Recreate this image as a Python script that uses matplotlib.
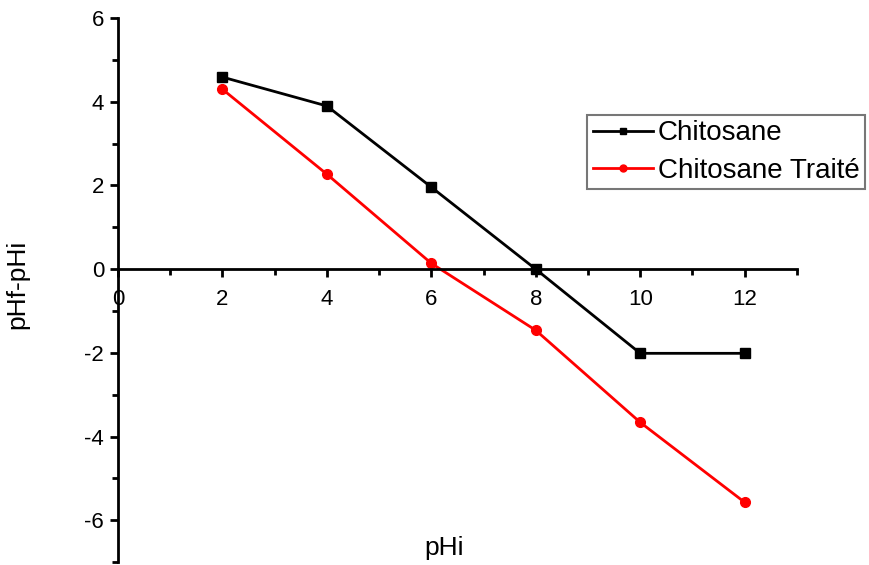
import matplotlib
matplotlib.use("Agg")
import matplotlib.pyplot as plt
from matplotlib.ticker import MultipleLocator

plt.rcParams['font.family'] = ['Liberation Sans', 'DejaVu Sans']
plt.rcParams['axes.unicode_minus'] = False

# pH titration data
phi = [2, 4, 6, 8, 10, 12]
chitosane = [4.59, 3.90, 1.96, 0.0, -2.01, -2.01]
chitosane_traite = [4.30, 2.27, 0.14, -1.46, -3.66, -5.57]
series_labels = ["Chitosane", "Chitosane Traité"]

fig = plt.figure(figsize=(8.7, 5.65), dpi=100)
ax = fig.add_axes([0.1356, 0.005, 0.7804, 0.963])

ax.plot(phi, chitosane, color='black', lw=2, marker='s', ms=7,
        label=series_labels[0])
ax.plot(phi, chitosane_traite, color='red', lw=2, marker='o', ms=7,
        label=series_labels[1])

ax.set_xlim(0, 13)
ax.set_ylim(-7, 6)

# axes crossing at the origin
ax.spines['left'].set_position(('data', 0))
ax.spines['bottom'].set_position(('data', 0))
ax.spines['top'].set_visible(False)
ax.spines['right'].set_visible(False)
for s in ('left', 'bottom'):
    ax.spines[s].set_linewidth(2)

ax.xaxis.set_major_locator(MultipleLocator(2))
ax.xaxis.set_minor_locator(MultipleLocator(1))
ax.yaxis.set_major_locator(MultipleLocator(2))
ax.yaxis.set_minor_locator(MultipleLocator(1))
ax.tick_params(which='major', direction='out', length=6, width=2,
               labelsize=16, pad=4)
ax.tick_params(which='minor', direction='out', length=4.5, width=2)
ax.tick_params(axis='x', which='major', pad=8)

ax.set_xlabel("pHi", fontsize=19)
ax.xaxis.set_label_coords(0.48, 0.048)
ax.set_ylabel("pHf-pHi", fontsize=19)
ax.yaxis.set_label_coords(-0.13, 0.51)

leg = fig.legend(loc='upper left', bbox_to_anchor=(0.675, 0.797),
                 fontsize=20, frameon=True, fancybox=False,
                 handlelength=2.15, handletextpad=0.2, labelspacing=0.42,
                 borderpad=0.2, borderaxespad=0)
leg.get_frame().set_edgecolor('#555555')
leg.get_frame().set_linewidth(1.5)
for h in leg.legend_handles:
    h.set_markersize(5)

fig.savefig("out.png", dpi=100)
